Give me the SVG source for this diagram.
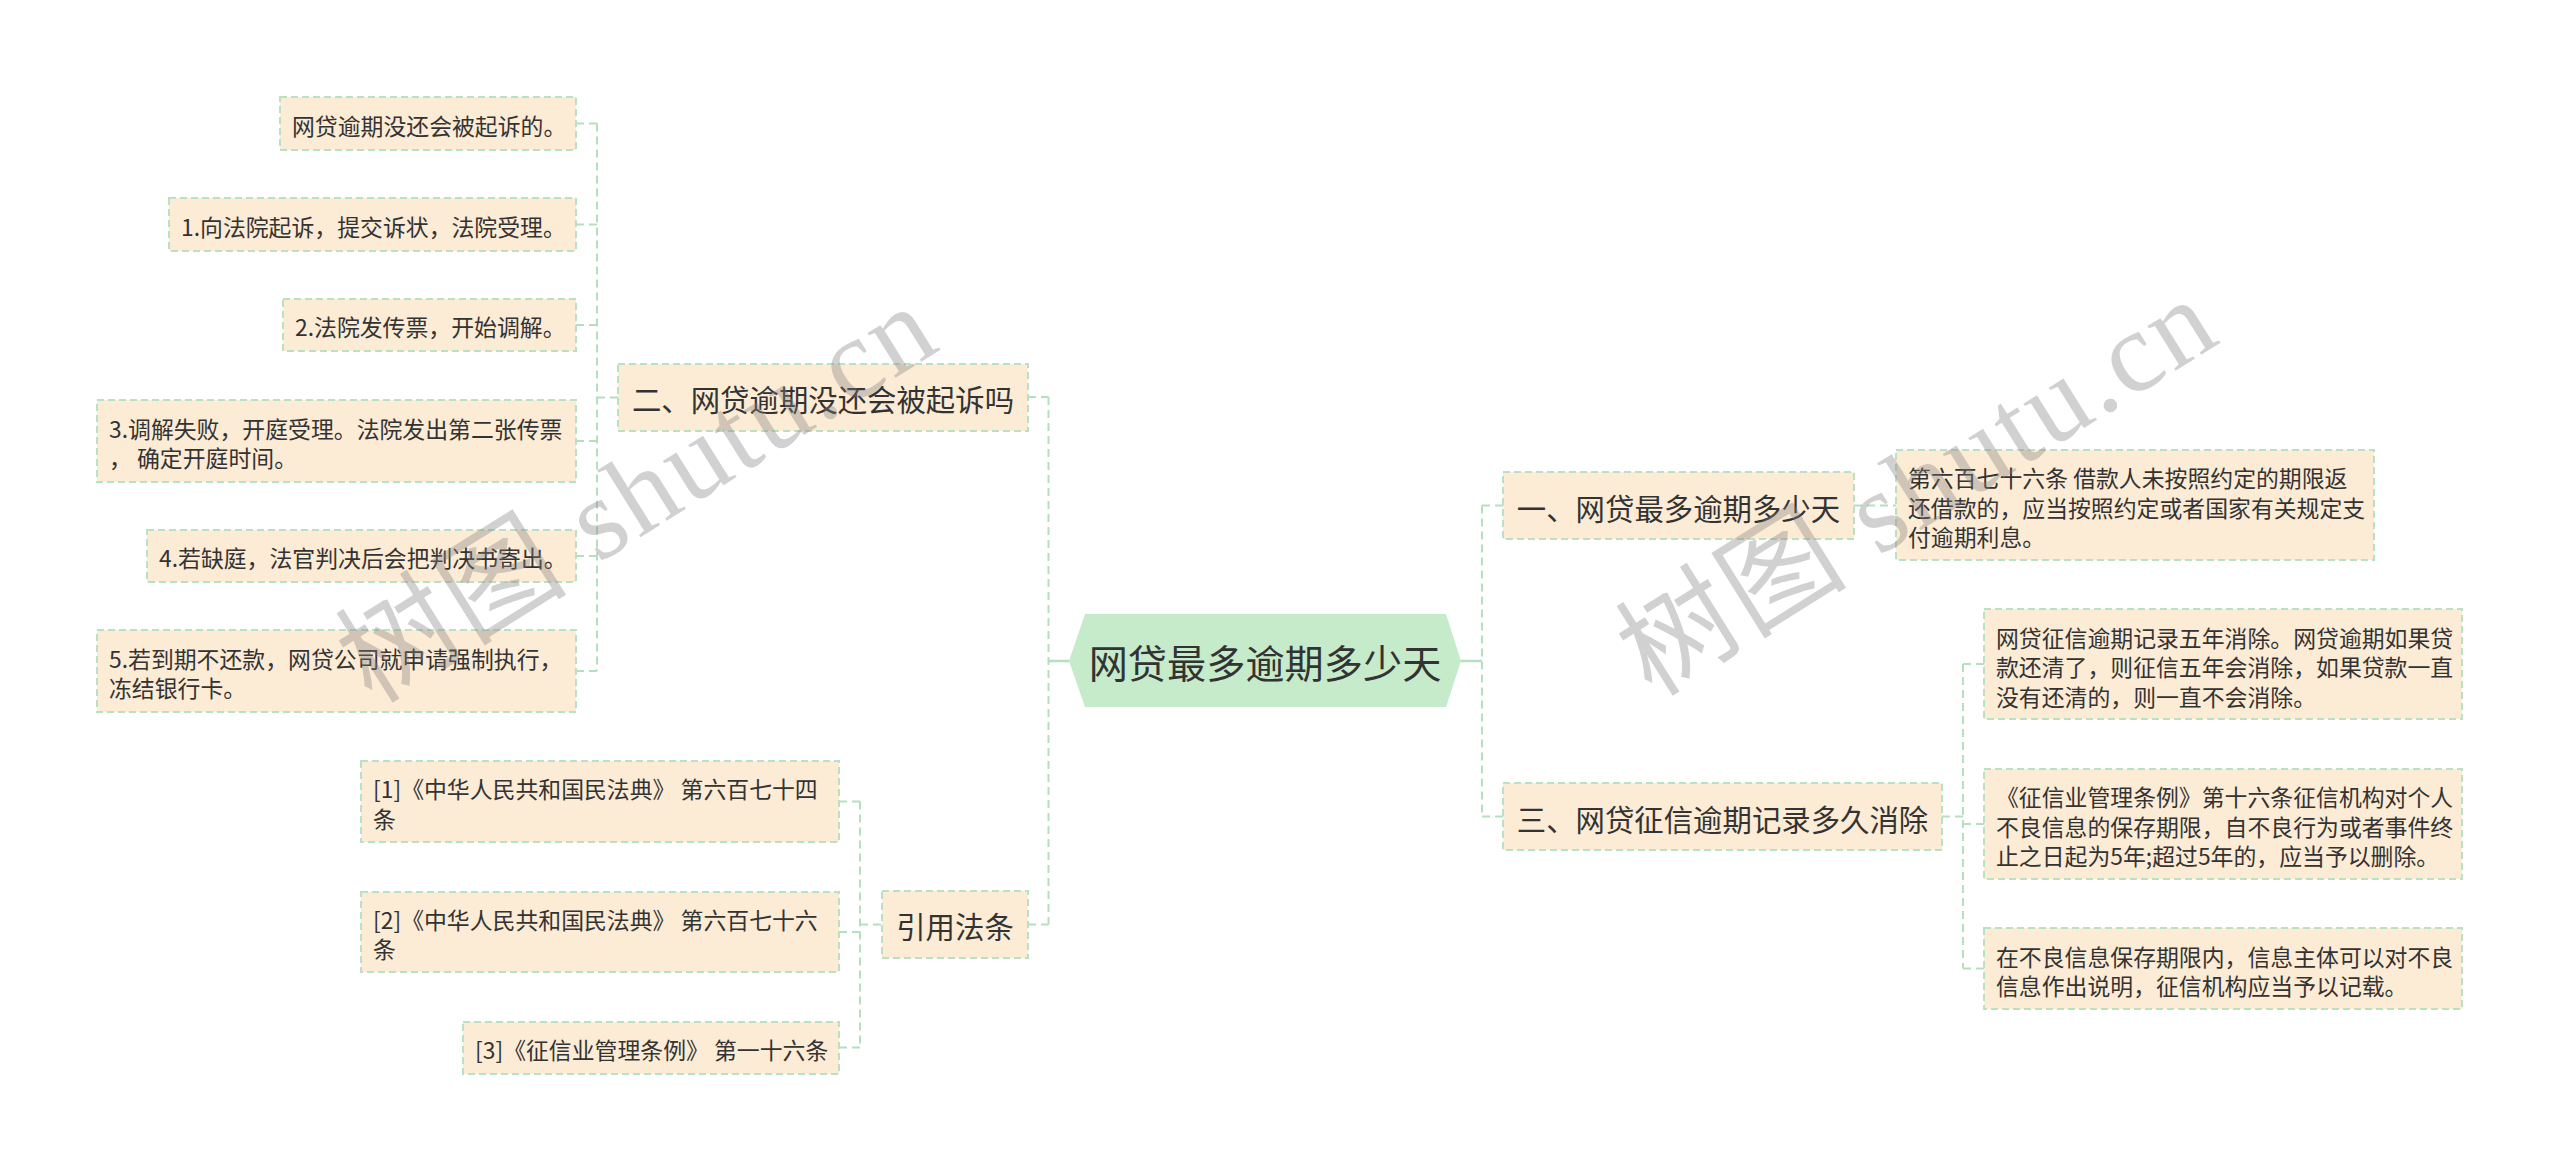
<svg xmlns="http://www.w3.org/2000/svg" width="2560" height="1171" viewBox="0 0 2560 1171">
<style>
.bg{fill:#ffffff}
.box{fill:#fcebd5;stroke:#b9e2c4;stroke-width:2;stroke-dasharray:7 4}
.hex{fill:#c5ebca}
.t{font-family:"Noto Sans CJK SC","Noto Sans",sans-serif;fill:#333333;dominant-baseline:central}
.leaf{font-size:22.86px}
.l1{font-size:29.4px;text-anchor:middle}
.root{font-size:39.2px;text-anchor:middle}
.con{fill:none;stroke:#b5dfbf;stroke-width:2;stroke-dasharray:8 5}
.solid{fill:none;stroke:#b5dfbf;stroke-width:2.5}
.wm{font-family:"Liberation Serif","Noto Sans CJK SC",serif;font-size:115px;fill:#808080;fill-opacity:0.36}
</style>
<rect class="bg" x="0" y="0" width="2560" height="1171"/>

<g id="connectors">
  <path class="con" d="M1048.5,397 V924.5"/>
  <path class="con" d="M1028,397 H1048.5 M1028,924.5 H1048.5"/>
  <path class="solid" d="M1048.5,661 H1069"/>
  <path class="con" d="M1482,505.5 V816.5"/>
  <path class="solid" d="M1461,661 H1482"/>
  <path class="con" d="M1482,505.5 H1503 M1482,816.5 H1503"/>
  <path class="con" d="M597,123.5 V671"/>
  <path class="con" d="M576,123.5 H597 M576,224.5 H597 M576,325 H597 M576,441 H597 M576,556 H597 M576,671 H597 M597,397.5 H618"/>
  <path class="con" d="M860,801.5 V1047.5"/>
  <path class="con" d="M839,801.5 H860 M839,932 H860 M839,1047.5 H860 M860,924.5 H882"/>
  <path class="con" d="M1854,505.5 H1896"/>
  <path class="con" d="M1963,664 V968.5"/>
  <path class="con" d="M1942,816.5 H1963 M1963,664 H1984 M1963,824 H1984 M1963,968.5 H1984"/>
</g>

<g id="root">
  <polygon class="hex" points="1069,661 1085,614 1446,614 1461,661 1446,707 1085,707"/>
  <text class="t root" x="1265" y="661">网贷最多逾期多少天</text>
</g>

<g id="n2">
  <rect class="box" x="618" y="364" width="410" height="67"/>
  <text class="t l1" x="823" y="398">二、网贷逾期没还会被起诉吗</text>
</g>
<g id="n2a">
  <rect class="box" x="280" y="97" width="296" height="53"/>
  <text class="t leaf" x="292" y="124.5">网贷逾期没还会被起诉的。</text>
</g>
<g id="n2b">
  <rect class="box" x="169" y="198" width="407" height="53"/>
  <text class="t leaf" x="181" y="225.5">1.向法院起诉，提交诉状，法院受理。</text>
</g>
<g id="n2c">
  <rect class="box" x="283" y="299" width="293" height="52"/>
  <text class="t leaf" x="295" y="326">2.法院发传票，开始调解。</text>
</g>
<g id="n2d">
  <rect class="box" x="97" y="400" width="479" height="82"/>
  <text class="t leaf" x="109" y="427.5">3.调解失败，开庭受理。法院发出第二张传票</text>
  <text class="t leaf" x="109" y="457">， 确定开庭时间。</text>
</g>
<g id="n2e">
  <rect class="box" x="147" y="530" width="429" height="52"/>
  <text class="t leaf" x="159" y="557">4.若缺庭，法官判决后会把判决书寄出。</text>
</g>
<g id="n2f">
  <rect class="box" x="97" y="630" width="479" height="82"/>
  <text class="t leaf" x="109" y="657.5">5.若到期不还款，网贷公司就申请强制执行，</text>
  <text class="t leaf" x="109" y="687">冻结银行卡。</text>
</g>

<g id="nref">
  <rect class="box" x="882" y="891" width="146" height="67"/>
  <text class="t l1" x="955" y="925">引用法条</text>
</g>
<g id="nref1">
  <rect class="box" x="361" y="761" width="478" height="81"/>
  <text class="t leaf" x="373" y="788">[1]《中华人民共和国民法典》 第六百七十四</text>
  <text class="t leaf" x="373" y="817.5">条</text>
</g>
<g id="nref2">
  <rect class="box" x="361" y="892" width="478" height="80"/>
  <text class="t leaf" x="373" y="918.5">[2]《中华人民共和国民法典》 第六百七十六</text>
  <text class="t leaf" x="373" y="948">条</text>
</g>
<g id="nref3">
  <rect class="box" x="463" y="1022" width="376" height="52"/>
  <text class="t leaf" x="475" y="1049">[3]《征信业管理条例》 第一十六条</text>
</g>

<g id="n1">
  <rect class="box" x="1503" y="472" width="351" height="67"/>
  <text class="t l1" x="1678.5" y="506.5">一、网贷最多逾期多少天</text>
</g>
<g id="n1a">
  <rect class="box" x="1896" y="450" width="478" height="110"/>
  <text class="t leaf" x="1908" y="477">第六百七十六条 借款人未按照约定的期限返</text>
  <text class="t leaf" x="1908" y="506.5">还借款的，应当按照约定或者国家有关规定支</text>
  <text class="t leaf" x="1908" y="536">付逾期利息。</text>
</g>

<g id="n3">
  <rect class="box" x="1503" y="783" width="439" height="67"/>
  <text class="t l1" x="1722.5" y="817.5">三、网贷征信逾期记录多久消除</text>
</g>
<g id="n3a">
  <rect class="box" x="1984" y="609" width="478" height="110"/>
  <text class="t leaf" x="1996" y="636.5">网贷征信逾期记录五年消除。网贷逾期如果贷</text>
  <text class="t leaf" x="1996" y="666">款还清了，则征信五年会消除，如果贷款一直</text>
  <text class="t leaf" x="1996" y="695.5">没有还清的，则一直不会消除。</text>
</g>
<g id="n3b">
  <rect class="box" x="1984" y="769" width="478" height="110"/>
  <text class="t leaf" x="1996" y="796">《征信业管理条例》第十六条征信机构对个人</text>
  <text class="t leaf" x="1996" y="825.5">不良信息的保存期限，自不良行为或者事件终</text>
  <text class="t leaf" x="1996" y="855">止之日起为5年;超过5年的，应当予以删除。</text>
</g>
<g id="n3c">
  <rect class="box" x="1984" y="928" width="478" height="81"/>
  <text class="t leaf" x="1996" y="955.5">在不良信息保存期限内，信息主体可以对不良</text>
  <text class="t leaf" x="1996" y="985">信息作出说明，征信机构应当予以记载。</text>
</g>

<g id="watermarks">
  <text class="wm" transform="translate(372,705) rotate(-32)" textLength="672" lengthAdjust="spacing">树图 shutu.cn</text>
  <text class="wm" transform="translate(1652,698) rotate(-32)" textLength="672" lengthAdjust="spacing">树图 shutu.cn</text>
</g>
</svg>
